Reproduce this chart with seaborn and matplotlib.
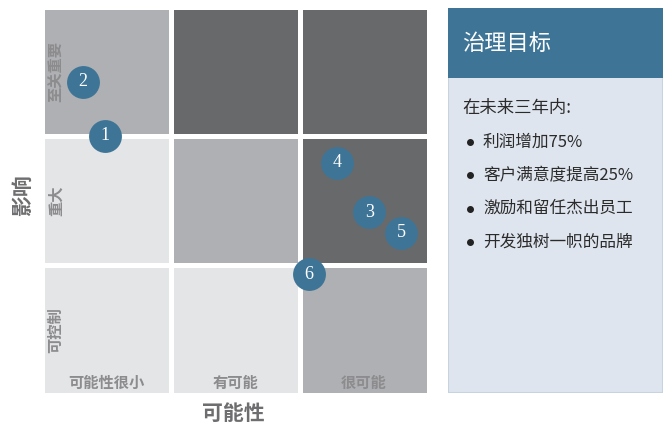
import numpy as np
import pandas as pd
import matplotlib
matplotlib.use("Agg")
import matplotlib.pyplot as plt
import seaborn as sns
from matplotlib.colors import ListedColormap
from matplotlib.patches import Rectangle

sns.set_style("white")
plt.rcParams['font.family'] = ['Noto Sans CJK SC', 'DejaVu Sans']

# data
likelihood = ["可能性很小", "有可能", "很可能"]
impact = ["可控制", "重大", "至关重要"]          # bottom -> top
# risk level per cell (0 = low, 1 = medium, 2 = high), rows bottom -> top
levels = [[0, 0, 1],
          [0, 1, 2],
          [1, 2, 2]]
risk_ids = [1, 2, 3, 4, 5, 6]
risk_x = [0.49, 0.32, 2.54, 2.29, 2.79, 2.07]
risk_y = [2.00, 2.42, 1.41, 1.79, 1.25, 0.93]
panel_title = "治理目标"
panel_intro = "在未来三年内:"
goals = ["利润增加75%", "客户满意度提高25%", "激励和留任杰出员工", "开发独树一帜的品牌"]

cell_colors = ["#e4e5e7", "#afb0b3", "#68696b"]
blue = "#3e7597"
label_gray = "#8c8c8e"

fig = plt.figure(figsize=(6.65, 4.25), dpi=100)
ax = fig.add_axes([41.5 / 665, 1 - 394.5 / 425, 387 / 665, 388 / 425])

grid = pd.DataFrame(levels, index=impact, columns=likelihood)
sns.heatmap(grid, ax=ax, cmap=ListedColormap(cell_colors), vmin=-0.5, vmax=2.5,
            cbar=False, linewidths=2.5, linecolor="white", square=False)
ax.set_ylim(0, 3)
ax.set_xlim(0, 3)
ax.set_xticks([])
ax.set_yticks([])
ax.set_xlabel("")
ax.set_ylabel("")
for s in ax.spines.values():
    s.set_visible(False)

# category labels inside cells
for i, name in enumerate(likelihood):
    ax.text(i + 0.5, 0.09, name, ha="center", va="center", fontsize=11,
            fontweight="bold", color=label_gray)
for j, name in enumerate(impact):
    ax.text(0.11, j + 0.5, name, ha="center", va="center", rotation=90,
            fontsize=11, fontweight="bold", color=label_gray)

# risk markers
ax.scatter(risk_x, risk_y, s=560, color=blue, zorder=3, clip_on=False, linewidths=0)
for rid, x, y in zip(risk_ids, risk_x, risk_y):
    ax.text(x, y, str(rid), ha="center", va="center", color="white",
            fontsize=13, family="Liberation Serif", zorder=4)

fig.text(233 / 665, 1 - 413 / 425, "可能性", ha="center", va="center",
         fontsize=15, fontweight="bold", color="#6e6e70")
fig.text(22 / 665, 1 - 195 / 425, "影响", ha="center", va="center", rotation=90,
         fontsize=15, fontweight="bold", color="#6e6e70")

# goals panel
pax = fig.add_axes([448 / 665, 1 - 393 / 425, 215 / 665, 385 / 425])
pax.set_xlim(0, 215)
pax.set_ylim(385, 0)
pax.axis("off")
pax.add_patch(Rectangle((0, 0), 215, 385, facecolor="#dfe5ee",
                        edgecolor="#c6d4e2", linewidth=1.5))
pax.add_patch(Rectangle((0, 0), 215, 70, facecolor=blue, edgecolor="none"))
pax.text(14, 35, panel_title, ha="left", va="center", color="white", fontsize=16)
pax.text(14, 100, panel_intro, ha="left", va="center", color="#2b2b2b", fontsize=12.5)
for k, g in enumerate(goals):
    yy = 134 + k * 33.3
    pax.plot(22, yy, "o", color="#222222", markersize=4)
    pax.text(35, yy, g, ha="left", va="center", color="#2b2b2b", fontsize=12)

fig.savefig("out.png", dpi=100, facecolor="white")
